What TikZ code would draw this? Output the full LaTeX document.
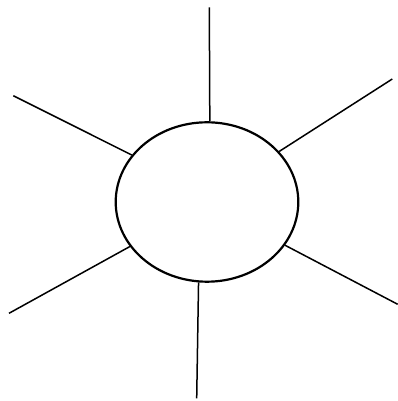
\documentclass[tikz,border=0pt]{standalone}
\usetikzlibrary{shapes.geometric}
\begin{document}
\begin{tikzpicture}[x=1pt,y=1pt,
  hub/.style={draw=black,ellipse,line width=2.2pt,minimum width=182.6pt,minimum height=159.4pt,inner sep=0pt},
  ray/.style={draw=black,line width=1.5pt}]
\useasboundingbox (0,0) rectangle (398,401);
\node[hub] (e) at (207,199) {};
\coordinate (t) at (209.3,393.7);
\coordinate (ul) at (13.3,305.3);
\coordinate (ur) at (392.3,322);
\coordinate (ll) at (9,87.7);
\coordinate (lr) at (397.7,96.7);
\coordinate (b) at (196.7,2.7);
\draw[ray] (t) -- (e.88);
\draw[ray] (ul) -- (e.148);
\draw[ray] (ur) -- (e.35.4);
\draw[ray] (ll) -- (e.210.4);
\draw[ray] (lr) -- (e.331);
\draw[ray] (b) -- (e.264.5);
\end{tikzpicture}
\end{document}
